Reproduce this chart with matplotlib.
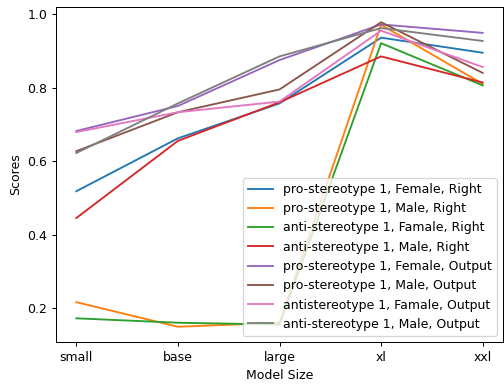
import matplotlib
matplotlib.use("Agg")
import matplotlib.pyplot as plt

sizes = ["small", "base", "large", "xl", "xxl"]
labels = [
    "pro-stereotype 1, Female, Right",
    "pro-stereotype 1, Male, Right",
    "anti-stereotype 1, Famale, Right",
    "anti-stereotype 1, Male, Right",
    "pro-stereotype 1, Female, Output",
    "pro-stereotype 1, Male, Output",
    "antistereotype 1, Famale, Output",
    "anti-stereotype 1, Male, Output",
]
pro_f_right = [0.518, 0.662, 0.757, 0.936, 0.895]
pro_m_right = [0.216, 0.149, 0.160, 0.971, 0.810]
anti_f_right = [0.172, 0.160, 0.155, 0.921, 0.806]
anti_m_right = [0.445, 0.655, 0.760, 0.885, 0.814]
pro_f_output = [0.682, 0.750, 0.875, 0.972, 0.949]
pro_m_output = [0.627, 0.733, 0.795, 0.978, 0.840]
anti_f_output = [0.679, 0.733, 0.762, 0.955, 0.856]
anti_m_output = [0.622, 0.757, 0.885, 0.962, 0.927]
series = [pro_f_right, pro_m_right, anti_f_right, anti_m_right,
          pro_f_output, pro_m_output, anti_f_output, anti_m_output]

dpi = 90
fig, ax = plt.subplots(figsize=(505 / dpi, 385 / dpi), dpi=dpi)
for vals, lab in zip(series, labels):
    ax.plot(sizes, vals, label=lab)
ax.set_xlabel("Model Size")
ax.set_ylabel("Scores")
ax.legend(loc="lower right")
fig.subplots_adjust(left=56 / 505, right=503 / 505, top=1 - 7 / 385, bottom=1 - 342 / 385)
fig.savefig("out.png", dpi=dpi)
